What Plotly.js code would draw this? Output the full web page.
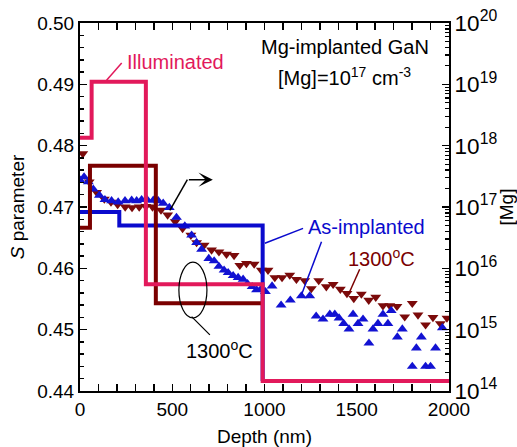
<!DOCTYPE html>
<html><head><meta charset="utf-8">
<script src="https://cdn.plot.ly/plotly-3.0.1.min.js"></script>
<style>html,body{margin:0;padding:0;background:#fff}#chart{width:517px;height:447px}</style>
</head><body><div id="chart"></div>
<script>
// S parameter vs depth, as-implanted (blue up-triangles)
const asDepth = [0,22,45,72,105,135,171,207,244,280,307,334,364,397,424,451,484,523,568,605,632,659,698,727,753,781,803,830,857,884,908,933,957,983,1005,1041,1090,1140,1200,1245,1280,1317,1354,1381,1404,1429,1458,1480,1507,1534,1566,1588,1615,1642,1669,1687,1720,1747,1801,1823,1850,1873,1900,1927,1964];
const asS = [0.4744,0.4749,0.4741,0.4729,0.4719,0.4712,0.4710,0.4708,0.4710,0.4711,0.4710,0.4712,0.4712,0.4711,0.4710,0.4706,0.4699,0.4683,0.4669,0.4654,0.4642,0.4631,0.4616,0.4612,0.4603,0.4597,0.4593,0.4588,0.4585,0.4582,0.4575,0.4570,0.4565,0.4567,0.4562,0.4571,0.4540,0.4548,0.4555,0.4555,0.4522,0.4517,0.4525,0.4525,0.4519,0.4510,0.4501,0.4525,0.4510,0.4517,0.4478,0.4501,0.4510,0.4525,0.4510,0.4531,0.4488,0.4501,0.4440,0.4470,0.4488,0.4440,0.4440,0.4470,0.4503];
// S parameter vs depth, annealed 1300 C (brown down-triangles)
const annDepth = [15,50,90,132,168,204,245,282,321,357,393,439,475,516,556,601,632,673,713,753,794,835,866,902,944,983,1019,1056,1095,1137,1173,1218,1254,1294,1335,1372,1411,1447,1484,1525,1565,1603,1642,1679,1718,1760,1801,1832,1873,1913,1953,1989];
const annS = [0.4787,0.4741,0.4724,0.4713,0.4708,0.4704,0.4700,0.4699,0.4700,0.4701,0.4700,0.4695,0.4687,0.4676,0.4665,0.4654,0.4642,0.4638,0.4630,0.4627,0.4623,0.4621,0.4605,0.4608,0.4607,0.4597,0.4597,0.4585,0.4585,0.4589,0.4582,0.4580,0.4567,0.4580,0.4570,0.4574,0.4566,0.4559,0.4551,0.4558,0.4548,0.4553,0.4539,0.4539,0.4538,0.4521,0.4543,0.4524,0.4508,0.4520,0.4510,0.4519];
// Mg step profiles (right axis, cm^-3)
const illumDepth = [0,63,357,990,2000];
const illumMg = [1.35e18,1.1e19,5.5e15,1.45e14,1.45e14];
const annStepDepth = [0,54,411,983];
const annStepMg = [4.6e16,4.7e17,2.7e15,2.7e15];
const asStepDepth = [0,213,990,990];
const asStepMg = [8.3e16,5.0e16,5.0e16,1.45e14];

const PINK='#E2195B', BROWN='#7A0000', BLUE='#0A0ACD';
const FONT='Liberation Sans, Arial, sans-serif';

const traces = [
  {x:asStepDepth, y:asStepMg, yaxis:'y2', mode:'lines', line:{color:BLUE,width:4,shape:'hv'}},
  {x:annStepDepth, y:annStepMg, yaxis:'y2', mode:'lines', line:{color:BROWN,width:4,shape:'hv'}},
  {x:illumDepth, y:illumMg, yaxis:'y2', mode:'lines', line:{color:PINK,width:4,shape:'hv'}},
  {x:annDepth, y:annS, mode:'markers', marker:{symbol:'triangle-down',size:9.5,color:'#7B0A0A'}},
  {x:asDepth, y:asS, mode:'markers', marker:{symbol:'triangle-up',size:9.5,color:'#1212D2'}}
];

const tickCommon = {ticks:'inside', ticklen:7, tickwidth:1.5, tickcolor:'#000', showline:true, linewidth:2, linecolor:'#000', showgrid:false, zeroline:false, tickfont:{size:19,family:FONT,color:'#000'}};

const layout = {
  width:517, height:447,
  margin:{l:80, r:68, t:23, b:56, pad:0},
  paper_bgcolor:'#fff', plot_bgcolor:'#fff',
  showlegend:false,
  font:{family:FONT, size:19, color:'#000'},
  xaxis:Object.assign({}, tickCommon, {range:[0,2000], tick0:0, dtick:500, mirror:'allticks',
    minor:{dtick:100, ticks:'inside', ticklen:4, tickwidth:1.5, tickcolor:'#000'},
    title:{text:'Depth (nm)', font:{size:19,family:FONT}, standoff:12}}),
  yaxis:Object.assign({}, tickCommon, {range:[0.44,0.50], tick0:0.44, dtick:0.01, tickformat:'.2f',
    minor:{dtick:0.002, ticks:'inside', ticklen:4, tickwidth:1.5, tickcolor:'#000'},
    title:{text:'<i>S</i> parameter', font:{size:19,family:FONT}, standoff:8}}),
  yaxis2:Object.assign({}, tickCommon, {type:'log', range:[14,20], overlaying:'y', side:'right', dtick:1, exponentformat:'power',
    tickfont:{size:18,family:FONT,color:'#000'},
    minor:{dtick:'D1', ticks:'inside', ticklen:4, tickwidth:1.2, tickcolor:'#000'},
    title:{text:'[Mg]', font:{size:19,family:FONT}, standoff:6}}),
  shapes:[
    {type:'line', xref:'x', yref:'y', x0:144, y0:0.49065, x1:226, y1:0.49349, line:{color:PINK,width:1.5}},
    {type:'line', xref:'x', yref:'y', x0:1002, y0:0.46408, x1:1209, y1:0.46651, line:{color:BLUE,width:1.5}},
    {type:'line', xref:'x', yref:'y', x0:1309, y0:0.46433, x1:1200, y1:0.45565, line:{color:BLUE,width:1.5}},
    {type:'line', xref:'x', yref:'y', x0:1516, y0:0.45984, x1:1458, y1:0.45593, line:{color:BROWN,width:1.5}},
    {type:'line', xref:'x', yref:'y', x0:487, y0:0.46946, x1:582, y1:0.47446, line:{color:'#000',width:1.5}},
    {type:'circle', xref:'x', yref:'y', x0:536, x1:688, y0:0.4519, y1:0.4610, line:{color:'#000',width:1.2}},
    {type:'line', xref:'x', yref:'y', x0:605, y0:0.45212, x1:704, y1:0.44914, line:{color:'#000',width:1.2}}
  ],
  annotations:[
    {x:244, y:0.4936, xref:'x', yref:'y', text:'Illuminated', showarrow:false, xanchor:'left', font:{size:20,color:PINK,family:FONT}},
    {x:1435, y:0.49609, xref:'x', yref:'y', text:'Mg-implanted GaN', showarrow:false, font:{size:20,color:'#000',family:FONT}},
    {x:1435, y:0.49132, xref:'x', yref:'y', text:'[Mg]=10<sup>17</sup> cm<sup>-3</sup>', showarrow:false, font:{size:20,color:'#000',family:FONT}},
    {x:1551, y:0.46673, xref:'x', yref:'y', text:'As-implanted', showarrow:false, font:{size:20,color:BLUE,family:FONT}},
    {x:1633, y:0.46184, xref:'x', yref:'y', text:'1300<sup>o</sup>C', showarrow:false, font:{size:20,color:BROWN,family:FONT}},
    {x:758, y:0.44671, xref:'x', yref:'y', text:'1300<sup>o</sup>C', showarrow:false, font:{size:20,color:'#000',family:FONT}},
    {x:720, y:0.47446, xref:'x', yref:'y', ax:582, ay:0.47446, axref:'x', ayref:'y', text:'', showarrow:true, arrowhead:3, arrowsize:1.6, arrowwidth:1.5, arrowcolor:'#000'}
  ]
};

Plotly.newPlot('chart', traces, layout, {displayModeBar:false, staticPlot:true});
</script>
</body></html>
